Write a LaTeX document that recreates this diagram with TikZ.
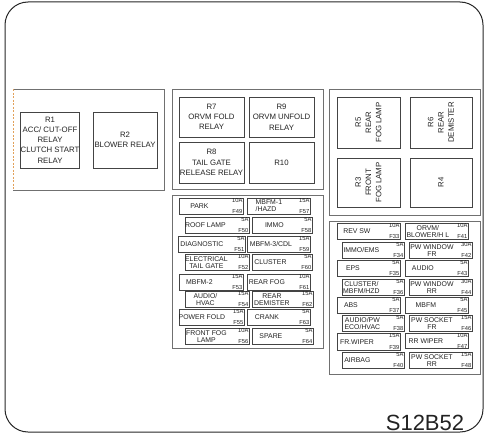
\documentclass[tikz,border=0pt]{standalone}
\usepackage{fontspec}
\setmainfont{Liberation Sans}
\definecolor{panelgray}{HTML}{707070}
\definecolor{boxgray}{HTML}{444444}
\definecolor{txt}{HTML}{222222}
\definecolor{dashorange}{HTML}{E2A15A}
\newcommand\fuse[9][-12]{%
 \pgfmathsetmacro\fw{#5-#3}\pgfmathsetmacro\fh{#6-#4}%
 \node[fusebox, minimum width=\fw pt, minimum height=\fh pt, anchor=north west] (#2) at (#3,#4) {};
 \node[famp, anchor=north east] (#2a) at ([xshift=-1.2pt,yshift=-0.7pt]#2.north east) {#8};
 \node[famp, anchor=south east] (#2f) at ([xshift=-1.2pt,yshift=0.6pt]#2.south east) {#9};
 \node[flabel] (#2l) at ([xshift=#1 pt]#2.center) {#7};
}
\newcommand\relaybox[7][0]{%
 \pgfmathsetmacro\rw{#5-#3}\pgfmathsetmacro\rh{#6-#4}%
 \ifnum#1=0
  \node[relay, minimum width=\rw pt, minimum height=\rh pt] (#2) at ({(#3+#5)/2},{(#4+#6)/2}) {#7};
 \else
  \node[relay, rotate=90, minimum width=\rh pt, minimum height=\rw pt] (#2) at ({(#3+#5)/2},{(#4+#6)/2}) {#7};
 \fi
}
\begin{document}
\begin{tikzpicture}[x=1pt,y=-1pt,
  frame/.style={draw=black!85, line width=1pt, rounded corners=23pt},
  panel/.style={draw=panelgray, line width=1pt},
  relay/.style={draw=boxgray, line width=0.9pt, align=center, inner sep=0pt, text=txt,
     font=\fontsize{7.8}{10.3}\selectfont},
  fusebox/.style={draw=boxgray, line width=0.8pt, inner sep=0pt},
  famp/.style={inner sep=0pt, text=txt, font=\fontsize{5.8}{6}\selectfont},
  flabel/.style={inner sep=0pt, text=txt, align=center, font=\fontsize{6.9}{7}\selectfont},
]
\useasboundingbox (0,0) rectangle (490,436);
\draw[frame] (5,2) rectangle (483,432);

% panels
\draw[panel] (13,89) -- (164,89) -- (164,190) -- (13,190);
\draw[draw=dashorange, line width=0.7pt, dash pattern=on 2pt off 1.5pt] (13,89) -- (13,190);
\draw[panel] (172,89) rectangle (323,189);
\draw[panel] (172,195) rectangle (323,348);
\draw[panel] (329,89) rectangle (480,215);
\draw[panel] (329,221) rectangle (480,374);

% relays
\relaybox{r1}{21}{112}{79}{168}{R1\\ACC/ CUT-OFF\\RELAY\\CLUTCH START\\RELAY}
\relaybox{r2}{93}{112}{157}{168}{R2\\BLOWER RELAY}
\relaybox{r7}{179}{97}{244}{137}{R7\\ORVM FOLD\\RELAY}
\relaybox{r9}{249}{97}{314}{137}{R9\\ORVM UNFOLD\\RELAY}
\relaybox{r8}{179}{142}{244}{183}{R8\\TAIL GATE\\RELEASE RELAY}
\relaybox{r10}{249}{142}{314}{183}{R10}
\relaybox[1]{r5}{337}{97}{400}{148}{R5\\REAR\\FOG LAMP}
\relaybox[1]{r6}{410}{97}{472}{148}{R6\\REAR\\DEMISTER}
\relaybox[1]{r3}{337}{158}{400}{207}{R3\\FRONT\\FOG LAMP}
\relaybox[1]{r4}{410}{158}{472}{207}{R4}

% middle fuses
\fuse{f49}{179}{198}{243}{213.5}{PARK}{10A}{F49}
\fuse[-10]{f57}{247}{198}{310}{213.5}{\begin{tabular}{@{}l@{}}MBFM-1\\/HAZD\end{tabular}}{15A}{F57}
\fuse{f50}{185}{217}{249}{232.5}{ROOF LAMP}{5A}{F50}
\fuse[-8]{f58}{252}{217}{312}{232.5}{IMMO}{5A}{F58}
\fuse[-10]{f51}{178}{236}{245}{251.5}{DIAGNOSTIC}{5A}{F51}
\fuse[-8]{f59}{247}{236}{310}{251.5}{MBFM-3/CDL}{15A}{F59}
\fuse[-11]{f52}{185}{254}{249}{270}{ELECTRICAL\\TAIL GATE}{10A}{F52}
\fuse{f60}{252}{254}{312}{270}{CLUSTER}{5A}{F60}
\fuse{f53}{179}{274}{243}{289.5}{MBFM-2}{15A}{F53}
\fuse{f61}{247}{274}{310}{289.5}{REAR FOG}{10A}{F61}
\fuse{f54}{185}{291}{249}{307}{AUDIO/\\HVAC}{15A}{F54}
\fuse[-11]{f62}{252}{291}{313}{307}{REAR\\DEMISTER}{15A}{F62}
\fuse[-10]{f55}{179}{309}{244}{324.5}{POWER FOLD}{15A}{F55}
\fuse{f63}{247}{309}{310}{324.5}{CRANK}{5A}{F63}
\fuse[-11]{f56}{185}{328}{249}{344}{FRONT FOG\\LAMP}{10A}{F56}
\fuse{f64}{252}{328}{313}{344}{SPARE}{5A}{F64}

% right fuses
\fuse{f33}{337}{223}{400}{238.5}{REV SW}{10A}{F33}
\fuse[-9]{f41}{405}{223}{468}{238.5}{ORVM/\\BLOWER/H L}{10A}{F41}
\fuse{f34}{342}{242}{404}{257.5}{IMMO/EMS}{5A}{F34}
\fuse[-9]{f42}{409}{242}{472}{257.5}{PW WINDOW\\FR}{30A}{F42}
\fuse[-16]{f35}{337}{260}{400}{275.5}{EPS}{5A}{F35}
\fuse[-14]{f43}{405}{260}{468}{275.5}{AUDIO}{5A}{F43}
\fuse{f36}{342}{279}{404}{294.5}{CLUSTER/\\MBFM/HZD}{5A}{F36}
\fuse[-9]{f44}{409}{279}{472}{294.5}{PW WINDOW\\RR}{30A}{F44}
\fuse[-18]{f37}{337}{297}{400}{312.5}{ABS}{5A}{F37}
\fuse[-11]{f45}{405}{297}{468}{312.5}{MBFM}{5A}{F45}
\fuse[-11]{f38}{342}{315}{404}{330.5}{AUDIO/PW\\ECO/HVAC}{5A}{F38}
\fuse[-9]{f46}{409}{315}{472}{330.5}{PW SOCKET\\FR}{15A}{F46}
\fuse{f39}{337}{333}{400}{350}{FR.WIPER}{15A}{F39}
\fuse[-11]{f47}{405}{333}{468}{348}{RR WIPER}{10A}{F47}
\fuse[-16]{f40}{342}{352}{404}{368}{AIRBAG}{5A}{F40}
\fuse[-9]{f48}{409}{352}{472}{368}{PW SOCKET\\RR}{15A}{F48}

\node[anchor=base, inner sep=0pt, text=txt, font=\fontsize{22}{24}\selectfont] (code) at (425,430.5) {S12B52};
\end{tikzpicture}
\end{document}
